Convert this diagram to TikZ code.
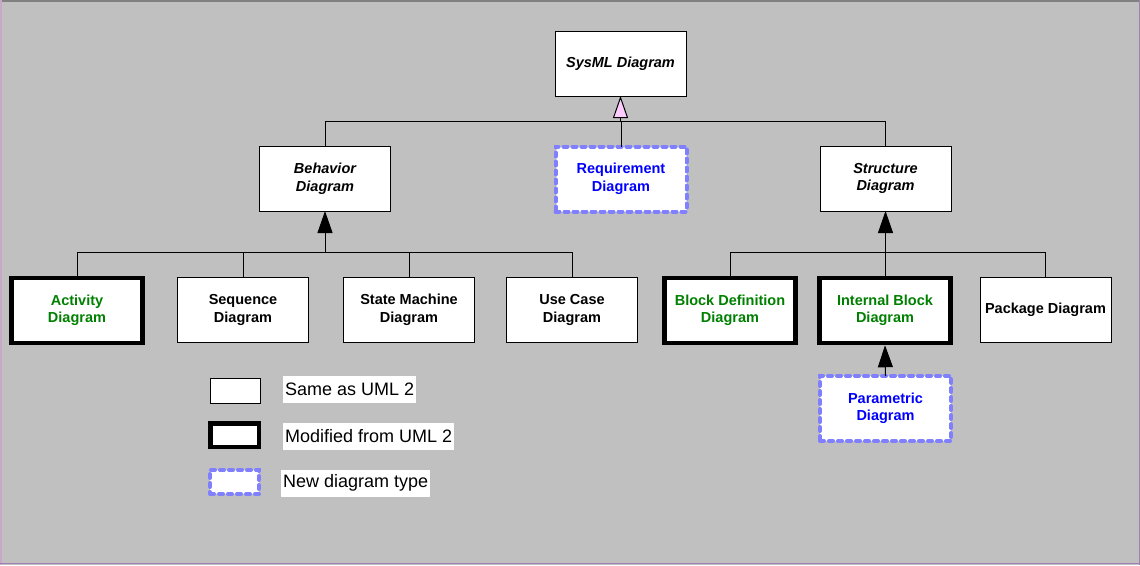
\documentclass[tikz,border=0pt]{standalone}
\usepackage{fontspec}
\setmainfont{Liberation Sans}
\usetikzlibrary{arrows.meta}
\definecolor{bg}{HTML}{C0C0C0}
\definecolor{newc}{HTML}{8080FF}
\definecolor{grn}{HTML}{008000}
\definecolor{blu}{HTML}{0000FF}
\definecolor{tri}{HTML}{FFCCFF}
\definecolor{edgeL}{HTML}{C8A8C8}
\definecolor{edgeR}{HTML}{A080B0}
\begin{document}
\begin{tikzpicture}[x=1pt,y=-1pt,
 diag/.style={draw=black, fill=white, line width=1pt, minimum width=131pt, minimum height=65pt, align=center, font=\fontsize{14.5}{17.5}\selectfont\bfseries, inner sep=0pt, outer sep=0pt},
 abst/.style={diag, font=\fontsize{14.5}{17.5}\selectfont\bfseries\itshape},
 modif/.style={diag, line width=4.5pt, text=grn},
 newd/.style={diag, draw=newc, line width=4pt, dash pattern=on 4pt off 5pt, line cap=round, text=blu},
 conn/.style={draw=black, line width=1pt},
 gen/.style={conn, -{Triangle[length=22pt,width=15pt,fill=tri]}},
 genb/.style={conn, -{Triangle[length=22pt,width=15pt,fill=black]}},
 legtxt/.style={fill=white, anchor=west, font=\fontsize{18}{20}\selectfont, inner xsep=2pt, inner ysep=0pt, minimum height=27pt}
]
\path[fill=bg] (0,0) rectangle (1140,565);
\useasboundingbox (0,0) rectangle (1140,565);
\draw[color=gray, line width=2pt] (0,1) -- (1140,1);
\draw[color=edgeL, line width=1.5pt] (0.75,0) -- (0.75,565);
\draw[color=edgeR, line width=1.5pt] (1139.25,0) -- (1139.25,565);
\draw[color=edgeR, line width=1.5pt] (0,563.5) -- (1140,563.5);

% nodes
\node[abst] (sysml) at (620.5,63.5) {SysML Diagram};
\node[abst] (beh) at (325,178.5) {Behavior\\Diagram};
\node[newd] (req) at (621,179) {Requirement\\Diagram};
\node[abst] (str) at (885.5,178.5) {Structure\\Diagram};

\node[modif] (act) at (77,310.5) {Activity\\Diagram};
\node[diag] (seq) at (243,310) {Sequence\\Diagram};
\node[diag] (sm) at (409,310) {State Machine\\Diagram};
\node[diag] (uc) at (572,310) {Use Case\\Diagram};
\node[modif] (bdd) at (730,310.5) {Block Definition\\Diagram};
\node[modif] (ibd) at (885,310.5) {Internal Block\\Diagram};
\node[diag] (pkg) at (1045.5,310) {Package Diagram};
\node[newd] (par) at (885.5,408.5) {Parametric\\Diagram};

% connectors
\path (sysml.south) ++(0,25) coordinate (b0);
\draw[gen] (b0) -- (sysml.south);
\draw[conn] (beh.north) |- (b0);
\draw[conn] (str.north) |- (b0);
\draw[conn] (req.north) -- (req.north |- b0);

\path (beh.south) ++(0,41) coordinate (b1);
\draw[genb] (b1) -- (beh.south);
\draw[conn] (act.north) |- (b1);
\draw[conn] (seq.north) |- (b1);
\draw[conn] (sm.north) |- (b1);
\draw[conn] (uc.north) |- (b1);

\path (str.south) ++(0,41) coordinate (b2);
\draw[genb] (b2) -- (str.south);
\draw[conn] (bdd.north) |- (b2);
\draw[conn] (ibd.north) |- (b2);
\draw[conn] (pkg.north) |- (b2);

\draw[genb, shorten >=2.25pt] (par.north) -- (ibd.south);

% legend
\node[diag, minimum width=50pt, minimum height=25pt] (l1) at (235,390.5) {};
\node[diag, line width=4.5pt, minimum width=48.5pt, minimum height=23.5pt] (l2) at (234.5,435) {};
\node[diag, draw=newc, line width=4pt, dash pattern=on 4pt off 5pt, line cap=round, minimum width=49pt, minimum height=24pt] (l3) at (234.5,482) {};
\node[legtxt] (t1) at (283,389.5) {Same as UML 2};
\node[legtxt] (t2) at (283,436.5) {Modified from UML 2};
\node[legtxt] (t3) at (281,483) {New diagram type};
\end{tikzpicture}
\end{document}
